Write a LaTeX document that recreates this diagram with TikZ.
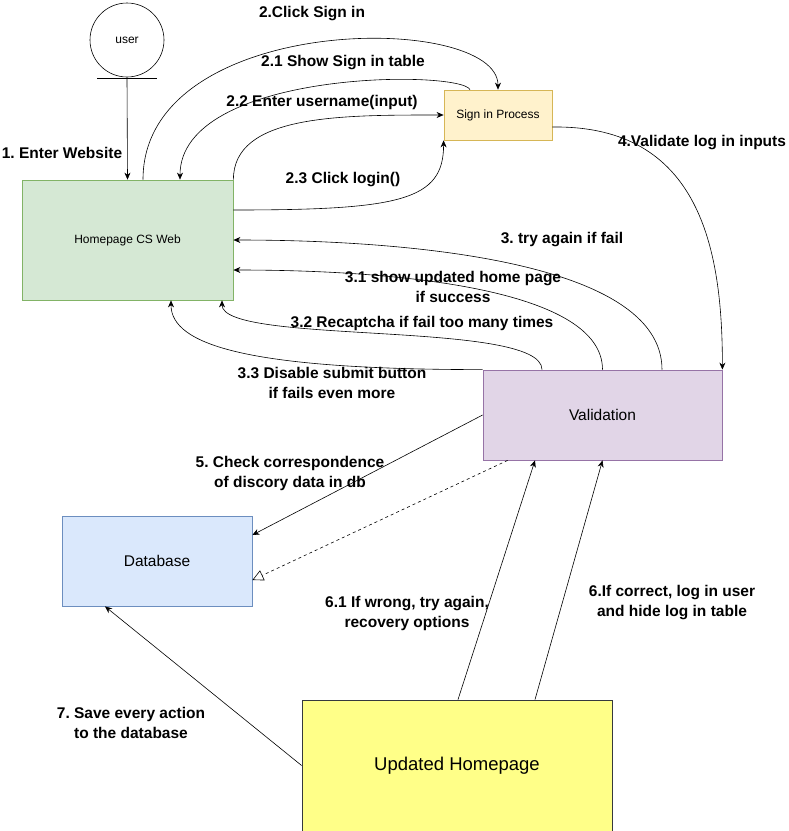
\documentclass[tikz,border=0pt]{standalone}
\usepackage{fontspec}
\setmainfont{Liberation Sans}
\frenchspacing
\usetikzlibrary{positioning,calc,arrows.meta}

\definecolor{greenfill}{HTML}{D5E8D4}
\definecolor{greenline}{HTML}{82B366}
\definecolor{yellowfill}{HTML}{FFF2CC}
\definecolor{yellowline}{HTML}{D6B656}
\definecolor{purplefill}{HTML}{E1D5E7}
\definecolor{purpleline}{HTML}{9673A6}
\definecolor{bluefill}{HTML}{DAE8FC}
\definecolor{blueline}{HTML}{6C8EBF}
\definecolor{notefill}{HTML}{FFFF88}
\definecolor{noteline}{HTML}{36393D}

\begin{document}
\begin{tikzpicture}[
    x=1pt, y=-1pt,
    process/.style={
        rectangle, draw, inner sep=0pt, line width=0.8pt
    },
    small/.style={font=\fontsize{12}{14}\selectfont},
    lbl/.style={
        align=center, inner sep=0pt, font=\bfseries\fontsize{15.5}{20}\selectfont
    },
    flow/.style={-{Stealth[length=7pt,width=6pt]}, line width=0.6pt}
]
    \useasboundingbox (0,0) rectangle (789,831);

    \node (user) [circle, draw, line width=0.6pt, minimum size=74pt, inner sep=0pt, small] at (127,40) {user};
    \node (home) [process, fill=greenfill, draw=greenline, minimum width=211pt, minimum height=120pt, small] at (127.5,240) {Homepage CS Web};
    \node (sign) [process, fill=yellowfill, draw=yellowline, minimum width=108pt, minimum height=50pt, small] at (498,115) {Sign in Process};
    \node (valid) [process, fill=purplefill, draw=purpleline, minimum width=239pt, minimum height=90pt, font=\fontsize{15.5}{18}\selectfont] at (602.5,415) {Validation};
    \node (db) [process, fill=bluefill, draw=blueline, minimum width=190pt, minimum height=90pt, font=\fontsize{15.5}{18}\selectfont] at (157,561) {Database};
    \node (upd) [process, fill=notefill, draw=noteline, minimum width=310pt, minimum height=131pt, font=\fontsize{18.5}{22}\selectfont] at (457,765.5) {Updated Homepage};

    \draw [line width=0.6pt] ([xshift=-30pt,yshift=-1pt]user.south) -- ([xshift=30pt,yshift=-1pt]user.south);

    \draw [flow] (user.south) -- (home.north);
    \draw [flow] ([xshift=15.5pt]home.north) .. controls +(0,-168) and +(0,-78) .. (sign.north);
    \draw [flow] ([xshift=-28pt]sign.north) .. controls +(-10,-20) and +(0,-110) .. ([xshift=52.5pt]home.north);
    \draw [flow] (home.north east) .. controls +(0,-65) and +(-104,0) .. (sign.west);
    \draw [flow] ([yshift=30pt]home.east) .. controls +(167,0) and +(0,60) .. (sign.south west);
    \draw [flow] ([yshift=-12pt]sign.east) .. controls +(148,-2) and +(0,-120) .. (valid.north east);

    \draw [flow] ([xshift=59.5pt]valid.north) .. controls +(0,-110) and +(167,0) .. (home.east);
    \draw [flow] (valid.north) .. controls +(0,-80) and +(167,0) .. ([yshift=-30pt]home.east);
    \draw [flow] ([xshift=-60.5pt]valid.north) .. controls +(0,-50) and +(0,45) .. ([xshift=94.5pt]home.south);
    \draw [flow] (valid.north west) .. controls +(-233,0) and +(0,45) .. ([xshift=43.5pt]home.south);

    \draw [flow] (valid.west) -- ([yshift=26pt]db.east);
    \draw [-{Triangle[open,length=11pt,width=11pt]}, dashed, line width=0.6pt] ([xshift=25pt]valid.south west) -- ([yshift=-19pt]db.east);

    \draw [flow] ([xshift=1pt]upd.north) -- ([xshift=-67.5pt]valid.south);
    \draw [flow] ([xshift=78pt]upd.north) -- (valid.south);
    \draw [flow] (upd.west) -- ([xshift=-52pt]db.south);

    \node (l1) [lbl] at (62,153) {1. Enter Website};
    \node (l2) [lbl] at (312,14) {2.Click Sign in};
    \node (l21) [lbl] at (343,63) {2.1 Show Sign in table};
    \node (l22) [lbl] at (322,102) {2.2 Enter username(input)};
    \node (l23) [lbl] at (343,180) {2.3 Click login()};
    \node (l4) [lbl] at (702,143) {4.Validate log in inputs};
    \node (l3) [lbl] at (562,240) {3. try again if fail};
    \node (l31) [lbl] at (453,287) {3.1 show updated home page\\if success};
    \node (l32) [lbl] at (422,323) {3.2 Recaptcha if fail too many times};
    \node (l33) [lbl] at (332,383) {3.3 Disable submit button\\if fails even more};
    \node (l5) [lbl] at (290,473) {5. Check correspondence\\of discory data in db};
    \node (l61) [lbl] at (407,613) {6.1 If wrong, try again,\\recovery options};
    \node (l6) [lbl] at (672,603) {6.If correct, log in user\\and hide log in table};
    \node (l7) [lbl] at (131,723) {7. Save every action\\to the database};
\end{tikzpicture}
\end{document}
